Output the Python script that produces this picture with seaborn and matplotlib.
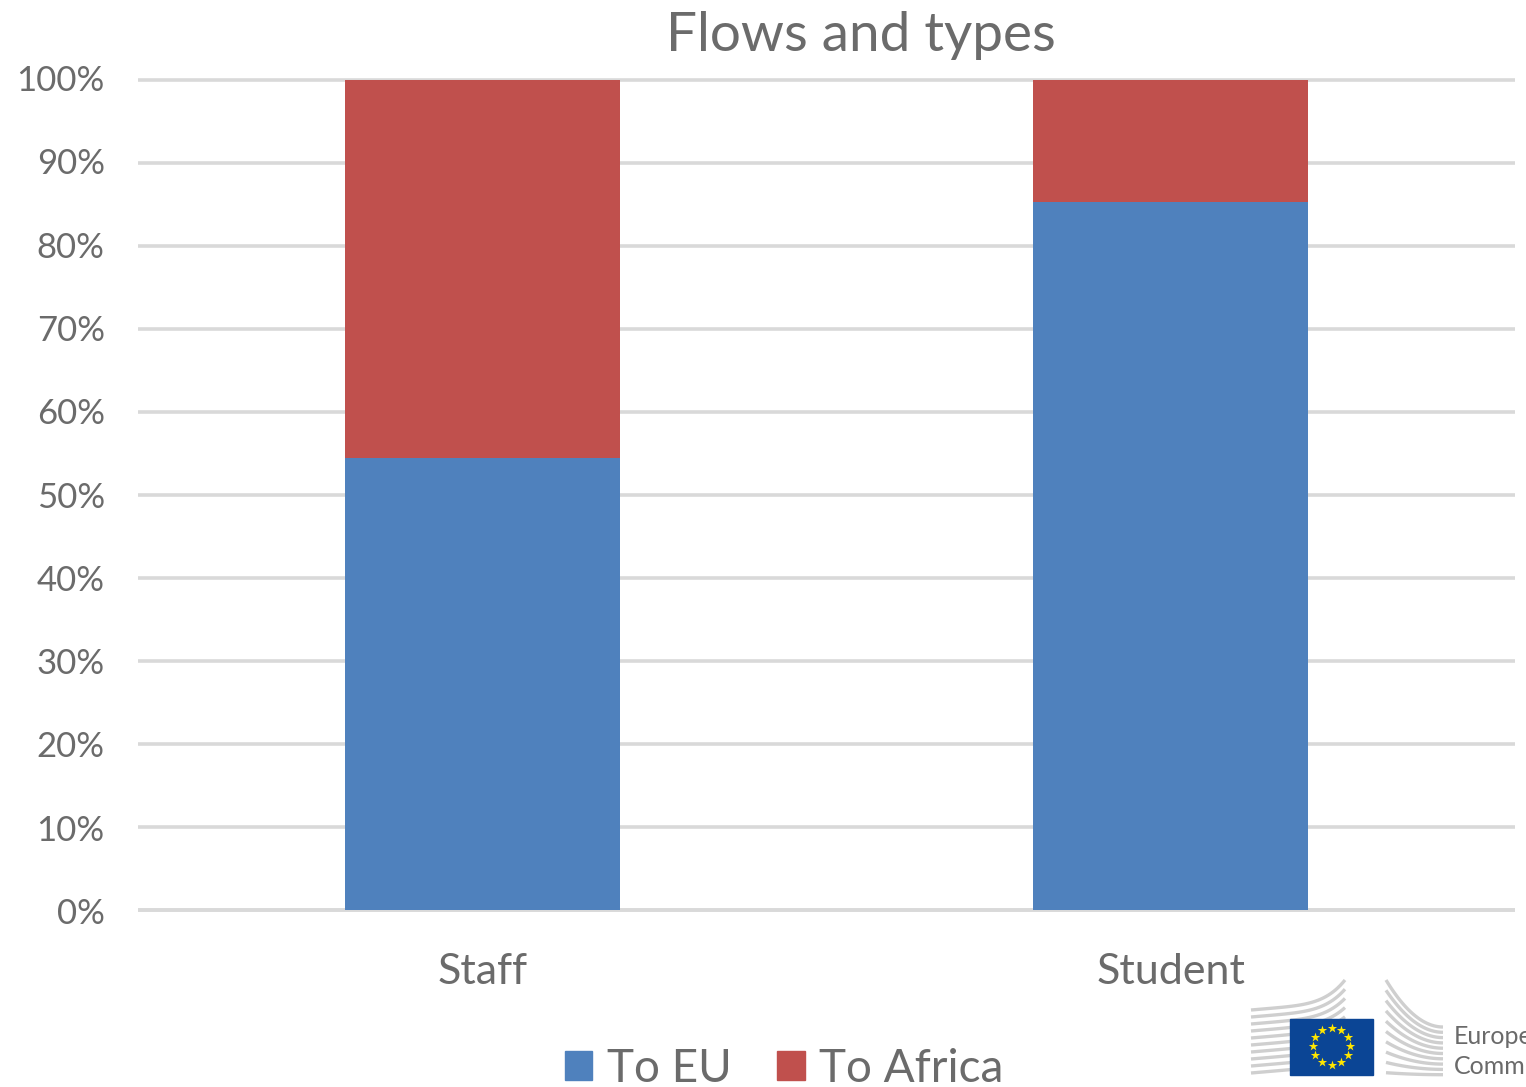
import numpy as np
import pandas as pd
import seaborn as sns
import matplotlib.pyplot as plt
from matplotlib.patches import Patch, Rectangle
from matplotlib.transforms import ScaledTranslation

categories = ['Staff', 'Student']
to_eu = [54.4, 85.3]
to_africa = [45.6, 14.7]
y_ticks = [0, 10, 20, 30, 40, 50, 60, 70, 80, 90, 100]

BLUE = '#4f81bd'
RED = '#c0504d'
GREY = '#6b6b6b'
W, H = 1526, 1087

sns.set_theme(style='white')
plt.rcParams['font.family'] = ['Lato', 'DejaVu Sans']

df = pd.DataFrame({'type': categories, 'eu': to_eu, 'africa': to_africa})
df['total'] = df['eu'] + df['africa']

fig = plt.figure(figsize=(W / 100, H / 100), dpi=100)
ax = fig.add_axes([138 / W, 1 - 910 / H, (1515 - 138) / W, 830 / H])

# stacked: full height in red first, blue over it
sns.barplot(data=df, x='type', y='total', color=RED, saturation=1, width=0.4, ax=ax, zorder=3, linewidth=0)
sns.barplot(data=df, x='type', y='eu', color=BLUE, saturation=1, width=0.4, ax=ax, zorder=4, linewidth=0)

ax.set_xlim(-0.5, 1.5)
ax.set_ylim(0, 100)
ax.set_yticks(y_ticks)
ax.set_yticklabels([f'{v}%' for v in y_ticks])
ax.set_xlabel('')
ax.set_ylabel('')
ax.yaxis.grid(True, color='#d9d9d9', lw=2.6, zorder=0)
ax.set_axisbelow(True)
for s in ['top', 'right', 'left']:
    ax.spines[s].set_visible(False)
ax.spines['bottom'].set_color('#d9d9d9')
ax.spines['bottom'].set_linewidth(2.6)
ax.spines['bottom'].set_capstyle('butt')
for t in ax.yaxis.get_major_ticks():
    t.gridline.set_clip_on(False)
    t.gridline.set_solid_capstyle('butt')
ax.tick_params(axis='y', length=0, pad=24, labelsize=25, labelcolor=GREY)
ax.tick_params(axis='x', length=0, pad=31, labelsize=31, labelcolor=GREY)

# the reference labels are spaced a touch wider than the gridlines
for lab, v in zip(ax.get_yticklabels(), y_ticks):
    dy = 2 - 3 * (1 - v / 100)
    lab.set_transform(lab.get_transform() + ScaledTranslation(0, dy / 100, fig.dpi_scale_trans))

fig.text(861 / W, 1 - 36 / H, 'Flows and types', ha='center', va='center', fontsize=39.5, color=GREY)

fig.legend(handles=[Patch(color=BLUE, label='To EU'), Patch(color=RED, label='To Africa')],
           loc='center', bbox_to_anchor=(784 / W, 1 - 1069 / H), ncol=2, frameon=False,
           fontsize=33, labelcolor=GREY, handlelength=0.6, handleheight=0.6,
           handletextpad=0.31, columnspacing=1.0, borderpad=0)

# logo in pixel coordinates
lg = fig.add_axes([0, 0, 1, 1], zorder=10)
lg.set_xlim(0, W)
lg.set_ylim(H, 0)
lg.axis('off')
lg.patch.set_alpha(0)

for i in range(10):
    xs = np.linspace(1251, 1345, 40)
    t = (xs - 1251) / 94
    lg.plot(xs, 1010 + i * 7 - 8 * t - (22 - i * 2.2) * t ** 5, color='#cfcfcf', lw=2.4, solid_capstyle='butt')
    xs2 = np.linspace(1386, 1443, 40)
    t2 = (xs2 - 1386) / 57
    lg.plot(xs2, 1027 + i * 5.3 - (47 - i * 5) * (1 - t2) ** 2, color='#cfcfcf', lw=2.4, solid_capstyle='butt')

lg.add_patch(Rectangle((1290, 1019), 83, 56, color='#0b4595', zorder=3))
ang = np.deg2rad(np.arange(0, 360, 30))
lg.scatter(1331.5 + 18.5 * np.cos(ang), 1046 + 18.5 * np.sin(ang), marker='*', s=50, color='#ffe600',
           linewidths=0, zorder=4)
lg.text(1454, 1037, 'European', fontsize=18, color='#6a6a6a', va='center', ha='left', clip_on=False)
lg.text(1454, 1066, 'Commission', fontsize=18, color='#6a6a6a', va='center', ha='left', clip_on=False)

fig.savefig('out.png', dpi=100)
